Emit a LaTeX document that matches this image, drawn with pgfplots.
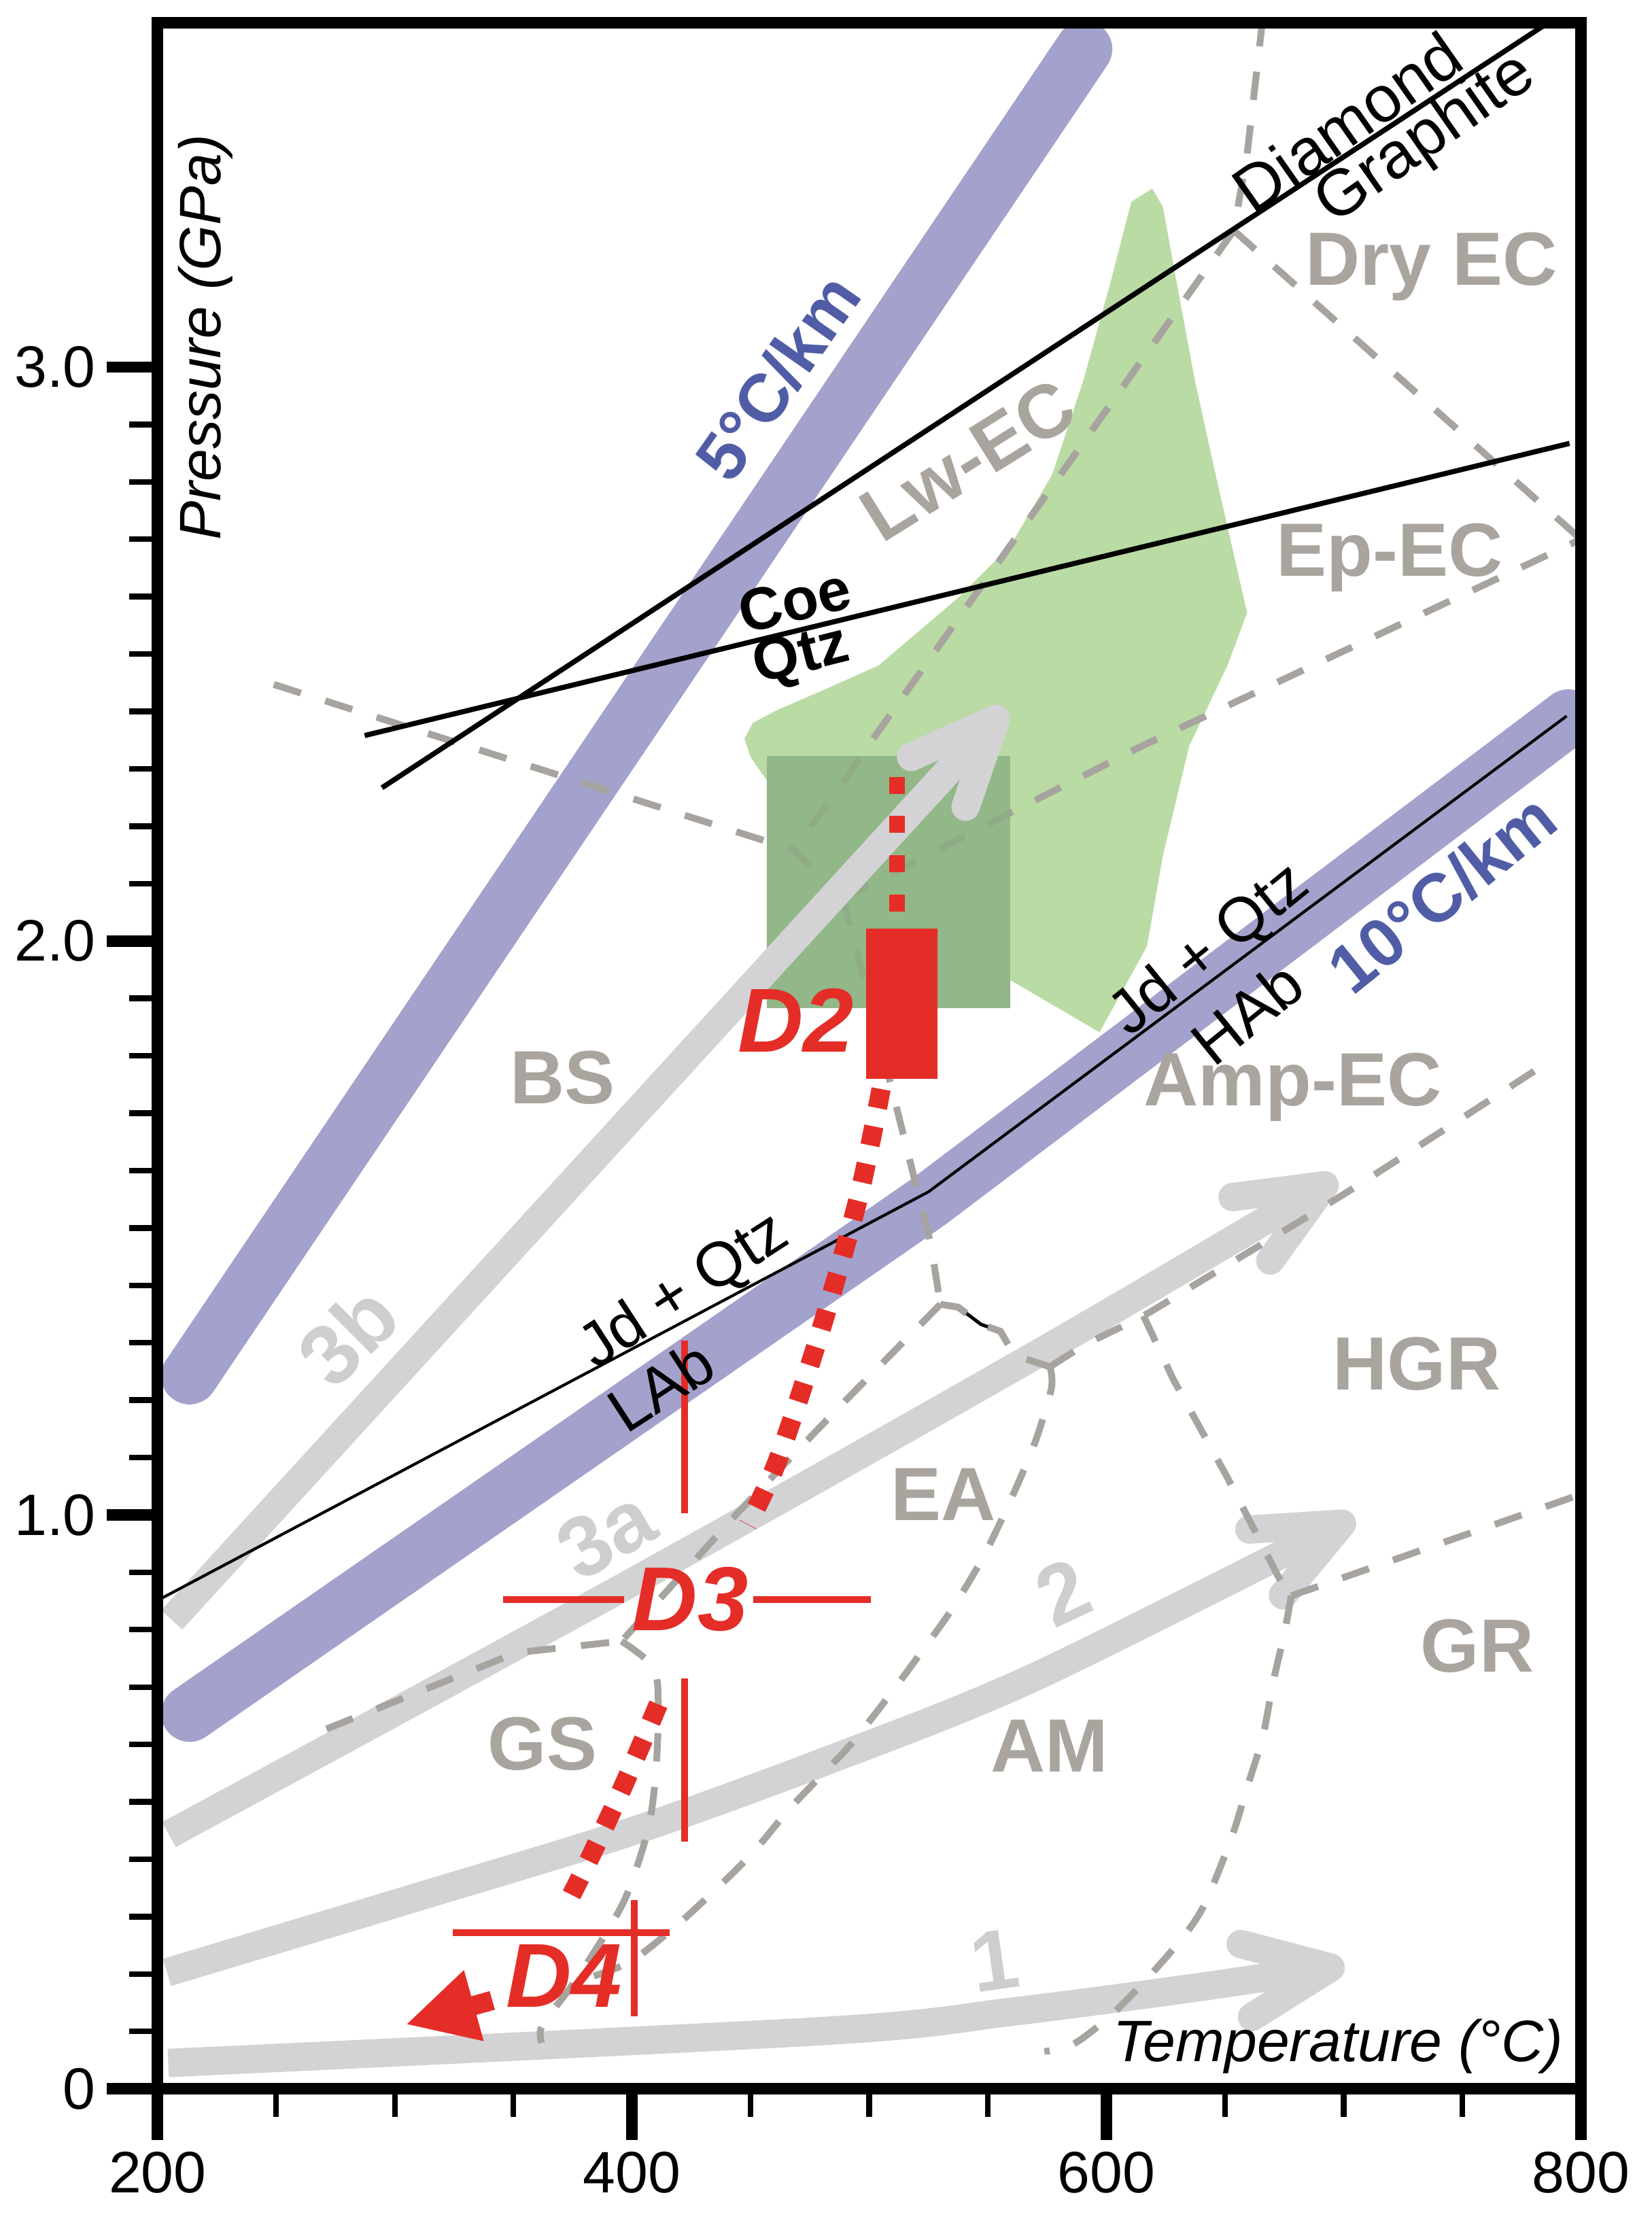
\documentclass[border=0pt]{standalone}
\usepackage{pgfplots}
\pgfplotsset{compat=1.18}
\usepackage{fontspec}
\setmainfont{Liberation Sans}
\usetikzlibrary{arrows.meta}

\definecolor{bandblue}{RGB}{163,162,204}
\definecolor{txtblue}{RGB}{80,93,166}
\definecolor{arrgray}{RGB}{211,211,213}
\definecolor{numgray}{RGB}{206,206,208}
\definecolor{dashgray}{RGB}{167,163,159}
\definecolor{lblgray}{RGB}{169,164,158}
\definecolor{ltgreen}{RGB}{186,219,164}
\definecolor{boxgreen}{RGB}{137,175,129}
\definecolor{myred}{RGB}{228,45,39}

\tikzset{
  bound/.style={dashgray, line width=1.2pt, dash pattern=on 5pt off 4.5pt},
  ppath/.style={arrgray, line width=5pt, -{Straight Barb[length=15pt,width=13pt,round]}},
  band/.style={bandblue, line width=10pt, line cap=round, line join=round},
  region/.style={lblgray, font=\fontsize{13.3}{13}\selectfont\bfseries},
  dlab/.style={myred, font=\fontsize{16}{16}\selectfont\bfseries\itshape},
  num/.style={numgray, font=\fontsize{15}{15}\selectfont\bfseries},
  blk/.style={black, font=\fontsize{11}{12}\selectfont},
}

\begin{document}
\begin{tikzpicture}
\begin{axis}[
  width=250.75pt, height=364pt, scale only axis,
  xmin=200, xmax=800, ymin=0, ymax=3.6,
  axis on top,
  no markers,
  axis line style={line width=2pt},
  tick align=outside,
  xtick pos=bottom, ytick pos=left,
  xtick={200,400,600,800}, xticklabels={200,400,600,800},
  ytick={0,1,2,3}, yticklabels={0,1.0,2.0,3.0},
  minor x tick num=3, minor y tick num=9,
  major tick length=9pt, minor tick length=5pt,
  major tick style={line width=2pt, black},
  minor tick style={line width=1pt, black},
  tick label style={font=\fontsize{10.3}{12}\selectfont},
  yticklabel style={inner xsep=1pt, xshift=-0.7pt},
  xticklabel style={inner ysep=1pt, yshift=-0.9pt},
]
% eclogite field (light green)
\addplot[fill=ltgreen, draw=none] coordinates {
  (619.3,3.311) (610.5,3.288) (601.6,3.146) (590.5,2.980) (577.2,2.813)
  (559.4,2.688) (537.2,2.597) (503.9,2.480) (481.7,2.439) (461.0,2.402)
  (451.0,2.380) (447.4,2.353) (450.0,2.320) (456.8,2.280) (456.8,1.883)
  (559.4,1.883) (559.4,1.932) (597.1,1.841) (617.1,1.991) (623.8,2.149)
  (634.9,2.340) (651.0,2.480) (659.3,2.572) (657.0,2.613) (646.0,2.813)
  (637.1,2.980) (628.2,3.179) (623.8,3.279)
} -- cycle;

% geotherms
\addplot[band] coordinates {(213.5,1.242) (590.5,3.554)};
\addplot[band] coordinates {(213.5,0.654) (524.8,1.545) (794.7,2.389)};

% P-T paths 1, 2, 3a
\addplot[ppath, smooth] coordinates {(204.5,0.045) (481.7,0.101) (559.4,0.134) (637,0.176) (700.4,0.215)};
\addplot[ppath, smooth] coordinates {(204,0.203) (311,0.336) (401,0.450) (483,0.573) (570,0.718) (704.6,0.996)};
\addplot[ppath, smooth] coordinates {(204.8,0.443) (399.8,0.882) (572,1.283) (697.1,1.587)};

% facies boundaries
\addplot[black, line width=0.6pt] coordinates {(530,1.367) (537.5,1.362) (547.1,1.332) (555.3,1.320)};
\addplot[bound] coordinates {(665.9,3.608) (659.3,3.371) (653.7,3.238) (499.5,2.340) (488,2.269) (467.9,2.159) (488.9,2.075)};
\addplot[bound] coordinates {(249,2.447) (467.9,2.159)};
\addplot[bound] coordinates {(488.9,2.075) (615.1,2.340) (800,2.70)};
\addplot[bound] coordinates {(653.7,3.238) (800,2.70)};
\addplot[bound] coordinates {(488.9,2.075) (496,1.961) (508.6,1.758) (526,1.471) (530,1.367)};
\addplot[bound] coordinates {(530,1.367) (488.3,1.192) (444.4,1.003) (395.6,0.780)};
\addplot[bound] coordinates {(271.2,0.627) (351.3,0.760) (395.6,0.780)};
\addplot[bound, smooth, tension=0.5] coordinates {(395.6,0.780) (408.9,0.735) (411.1,0.670) (410,0.549) (406.7,0.451) (397.8,0.338) (387.8,0.263) (375.2,0.183) (364.7,0.126) (361.4,0.102) (361.8,0.080)};
\addplot[bound] coordinates {(530,1.367) (537.5,1.362) (547.1,1.332) (555.3,1.320) (561.2,1.278) (576.2,1.258)};
\addplot[bound, smooth, tension=0.4] coordinates {(576.2,1.258) (591.7,1.298) (615.6,1.347) (639.2,1.406) (703.6,1.568) (785.8,1.788)};
\addplot[bound] coordinates {(615.6,1.347) (628.2,1.236) (651,1.065) (672.5,0.892) (677.9,0.859)};
\addplot[bound] coordinates {(677.9,0.859) (800,1.036)};
\addplot[bound, smooth, tension=0.5] coordinates {(677.9,0.859) (674.9,0.792) (670.4,0.711) (665.9,0.614) (659.3,0.525) (652.6,0.436) (641.4,0.322) (632.4,0.265) (616.9,0.191) (601.3,0.126) (586.1,0.078) (573.8,0.065)};
\addplot[bound, smooth, tension=0.5] coordinates {(576.2,1.258) (576.8,1.221) (570.2,1.130) (560.6,1.035) (548.1,0.927) (534.9,0.836) (521.8,0.760) (508.6,0.686) (492.8,0.603) (480.7,0.550) (466,0.486) (450.8,0.411) (434.2,0.343) (416.9,0.278) (398.1,0.219) (375.8,0.186)};

% D2 estimate box
\addplot[fill=boxgreen, fill opacity=0.8, draw=none] coordinates {(456.8,1.883) (559.4,1.883) (559.4,2.322) (456.8,2.322)} -- cycle;

% path 3b
\addplot[ppath] coordinates {(206,0.817) (557.4,2.405)};

% reaction lines
\addplot[black, line width=0.9pt] coordinates {(294.6,2.267) (784.7,3.596)};
\addplot[black, line width=0.9pt] coordinates {(287.3,2.358) (795.2,2.867)};
\addplot[black, line width=0.5pt] coordinates {(200,0.851) (525,1.563) (794,2.392)};

% red D2-D4 path
\addplot[fill=myred, draw=none] coordinates {(498.8,1.760) (528.8,1.760) (528.8,2.022) (498.8,2.022)} -- cycle;
\addplot[myred, line width=2.75pt, dash pattern=on 3pt off 3.9pt] coordinates {(511.6,2.286) (511.6,2.040)};
\addplot[myred, line width=3.4pt, dash pattern=on 3.4pt off 3.3pt, smooth] coordinates {(505,1.742) (495.5,1.553) (479.3,1.318) (461.4,1.095) (448.8,0.983)};
\addplot[myred, line width=3.4pt, dash pattern=on 3.4pt off 3.3pt, smooth] coordinates {(411.1,0.670) (396.7,0.531) (382.8,0.407) (373.5,0.33)};
\addplot[myred, line width=3.4pt, -{Triangle[length=12.5pt,width=12pt]}] coordinates {(341.1,0.154) (304.5,0.112)};
\addplot[myred, line width=1.2pt] coordinates {(345.6,0.853) (396.7,0.853)};
\addplot[myred, line width=1.2pt] coordinates {(451.1,0.853) (500.6,0.853)};
\addplot[myred, line width=1.2pt] coordinates {(422.2,1.304) (422.2,1.003)};
\addplot[myred, line width=1.2pt] coordinates {(422.2,0.715) (422.2,0.431)};
\addplot[myred, line width=1.2pt] coordinates {(324.5,0.272) (416.0,0.272)};
\addplot[myred, line width=1.2pt] coordinates {(401.0,0.329) (401.0,0.126)};

% labels
\node[region] at (axis cs:737,3.175) {Dry EC};
\node[region, rotate=32] at (axis cs:541.6,2.838) {Lw-EC};
\node[region] at (axis cs:719.3,2.668) {Ep-EC};
\node[region] at (axis cs:370.7,1.762) {BS};
\node[region] at (axis cs:678.6,1.745) {Amp-EC};
\node[region] at (axis cs:730.8,1.263) {HGR};
\node[region] at (axis cs:531.3,1.036) {EA};
\node[region] at (axis cs:756.3,0.772) {GR};
\node[region] at (axis cs:576.1,0.597) {AM};
\node[region] at (axis cs:362.3,0.601) {GS};

\node[dlab] at (axis cs:469.1,1.862) {D2};
\node[dlab] at (axis cs:424.5,0.853) {D3};
\node[dlab] at (axis cs:371.4,0.197) {D4};

\node[num, rotate=45] at (axis cs:280.1,1.313) {3b};
\node[num, rotate=30] at (axis cs:388.9,0.967) {3a};
\node[num, rotate=25] at (axis cs:581.6,0.865) {2};
\node[num, rotate=8] at (axis cs:552.8,0.224) {1};

\node[txtblue, font=\fontsize{12}{12}\selectfont\bfseries, rotate=55] at (axis cs:461.4,2.982) {5°C/km};
\node[txtblue, font=\fontsize{12}{12}\selectfont\bfseries, rotate=39] at (axis cs:741.4,2.083) {10°C/km};

\node[blk, font=\fontsize{11.5}{12}\selectfont, rotate=35] at (axis cs:701.5,3.427) {Diamond};
\node[blk, font=\fontsize{11.5}{12}\selectfont, rotate=35] at (axis cs:734.8,3.396) {Graphite};
\node[black, font=\fontsize{10.5}{11}\selectfont\bfseries, rotate=14] at (axis cs:468.5,2.593) {Coe};
\node[black, font=\fontsize{10.5}{11}\selectfont\bfseries, rotate=14] at (axis cs:471.5,2.494) {Qtz};
\node[blk, rotate=39] at (axis cs:643.8,1.983) {Jd + Qtz};
\node[blk, rotate=39] at (axis cs:659.3,1.875) {HAb};
\node[blk, rotate=33] at (axis cs:422.2,1.388) {Jd + Qtz};
\node[blk, rotate=33] at (axis cs:412.2,1.225) {LAb};

\node[font=\fontsize{10.3}{12}\selectfont\itshape, rotate=90] at (axis cs:220.2,3.052) {Pressure (GPa)};
\node[font=\fontsize{10.3}{12}\selectfont\itshape] at (axis cs:697.6,0.074) {Temperature (°C)};

\coordinate (bbA) at (rel axis cs:-0.1107,-0.0659);
\coordinate (bbB) at (rel axis cs:1.0499,1.011);
\end{axis}
\path (bbA) rectangle (bbB);
\end{tikzpicture}
\end{document}
